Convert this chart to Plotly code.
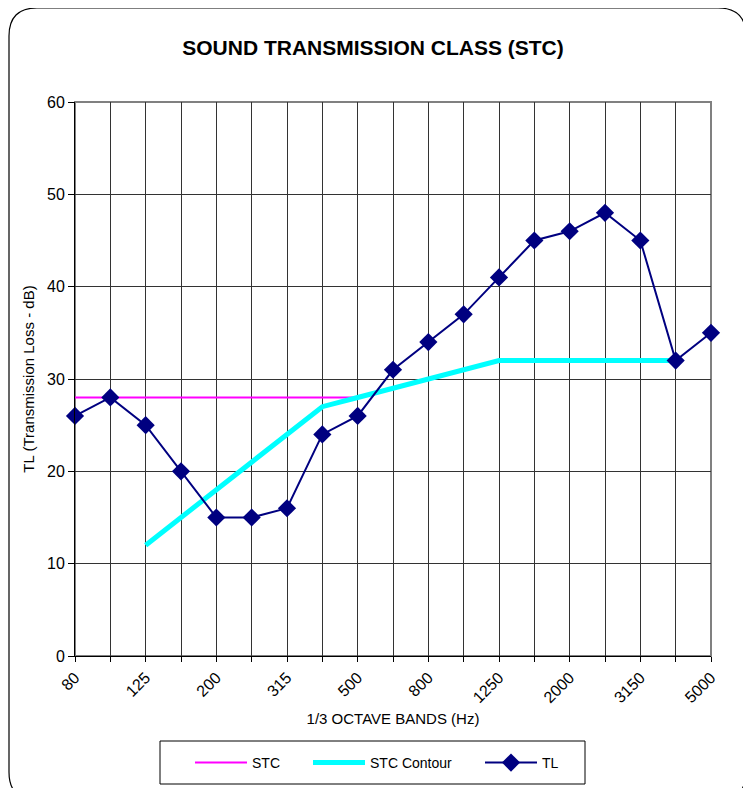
import plotly.graph_objects as go

bands = ["80", "100", "125", "160", "200", "250", "315", "400", "500", "630",
         "800", "1000", "1250", "1600", "2000", "2500", "3150", "4000", "5000"]
tl_values = [26, 28, 25, 20, 15, 15, 16, 24, 26, 31, 34, 37, 41, 45, 46, 48, 45, 32, 35]
stc_bands = ["80", "100", "125", "160", "200", "250", "315", "400", "500"]
stc_values = [28, 28, 28, 28, 28, 28, 28, 28, 28]
contour_bands = ["125", "160", "200", "250", "315", "400", "500", "630", "800",
                 "1000", "1250", "1600", "2000", "2500", "3150", "4000"]
contour_values = [12, 15, 18, 21, 24, 27, 28, 29, 30, 31, 32, 32, 32, 32, 32, 32]
shown_labels = ["80", "125", "200", "315", "500", "800", "1250", "2000", "3150", "5000"]
y_ticks = [0, 10, 20, 30, 40, 50, 60]

idx = {b: i for i, b in enumerate(bands)}

# The page body has an 8px margin, so the figure is drawn 8px smaller
# and all reference pixel positions are shifted by -8.
OFF = 8
W, H = 751 - OFF, 788 - OFF
L, R, T, B = 75, 711, 102, 656  # plot area in reference pixels


def px(x):
    return (x - L) / (R - L)


def py(y):
    return (B - y) / (B - T)


FONT = "Liberation Sans, Arial, sans-serif"

fig = go.Figure()
fig.add_trace(go.Scatter(
    x=[idx[b] for b in stc_bands], y=stc_values, name="STC", mode="lines",
    line=dict(color="#FF00FF", width=2), cliponaxis=False, legend="legend"))
fig.add_trace(go.Scatter(
    x=[idx[b] for b in contour_bands], y=contour_values, name="STC Contour", mode="lines",
    line=dict(color="#00FFFF", width=5), cliponaxis=False, legend="legend2"))
fig.add_trace(go.Scatter(
    x=list(range(len(bands))), y=tl_values, name="TL", mode="lines+markers",
    line=dict(color="#000080", width=2),
    marker=dict(symbol="diamond", size=14, color="#000080"), cliponaxis=False,
    legend="legend3"))

ticktext = [b if b in shown_labels else "" for b in bands]


def leg(x_ref):
    return dict(orientation="h", x=px(x_ref), xanchor="left", y=py(763), yanchor="middle",
                borderwidth=0, bgcolor="rgba(0,0,0,0)",
                font=dict(size=14, family=FONT), itemwidth=52)


fig.update_layout(
    width=W, height=H,
    margin=dict(l=L - OFF, r=W - (R - OFF), t=T - OFF, b=H - (B - OFF), autoexpand=False),
    paper_bgcolor="white", plot_bgcolor="white",
    font=dict(family=FONT, color="black", size=16),
    title=dict(text="<b>SOUND TRANSMISSION CLASS (STC)</b>", x=(373 - OFF) / W,
               xanchor="center", y=1 - (48 - OFF) / H, yanchor="middle",
               font=dict(size=21, family=FONT)),
    showlegend=True,
    legend=leg(190), legend2=leg(308), legend3=leg(480),
    xaxis=dict(range=[0, len(bands) - 1], tickmode="array",
               tickvals=list(range(len(bands))), ticktext=ticktext,
               tickangle=-45, showgrid=True, gridcolor="#333333", gridwidth=1,
               showline=True, linecolor="black", linewidth=1,
               ticks="outside", ticklen=5, tickcolor="black",
               tickfont=dict(size=16), zeroline=False, automargin=False,
               title=dict(text="1/3 OCTAVE BANDS (Hz)", font=dict(size=15), standoff=8)),
    yaxis=dict(range=[0, 60], tickmode="array", tickvals=y_ticks,
               showgrid=True, gridcolor="#333333", gridwidth=1,
               showline=True, linecolor="black", linewidth=1,
               ticks="outside", ticklen=6, tickcolor="black",
               tickfont=dict(size=16), zeroline=False, automargin=False,
               title=dict(text="TL (Transmission Loss - dB)", font=dict(size=15), standoff=8)),
)

shapes = []
# plot area frame (gray)
shapes.append(dict(type="rect", xref="paper", yref="paper", x0=0, x1=1, y0=0, y1=1,
                   line=dict(color="#808080", width=2), layer="below"))
# legend box
shapes.append(dict(type="rect", xref="paper", yref="paper", x0=px(160), x1=px(585),
                   y0=py(784), y1=py(741), line=dict(color="black", width=1),
                   fillcolor="white", layer="below"))
# rounded outer border
x0, x1, y0, y1, r = 9, 746, 8, 800, 28
path = (f"M {px(x0)},{py(y0 + r)} Q {px(x0)},{py(y0)} {px(x0 + r)},{py(y0)} "
        f"L {px(x1 - r)},{py(y0)} Q {px(x1)},{py(y0)} {px(x1)},{py(y0 + r)} "
        f"L {px(x1)},{py(y1 - r)} Q {px(x1)},{py(y1)} {px(x1 - r)},{py(y1)} "
        f"L {px(x0 + r)},{py(y1)} Q {px(x0)},{py(y1)} {px(x0)},{py(y1 - r)} Z")
shapes.append(dict(type="path", xref="paper", yref="paper", path=path,
                   line=dict(color="black", width=1.2), layer="below"))
fig.update_layout(shapes=shapes)

fig.write_html("out.html")
